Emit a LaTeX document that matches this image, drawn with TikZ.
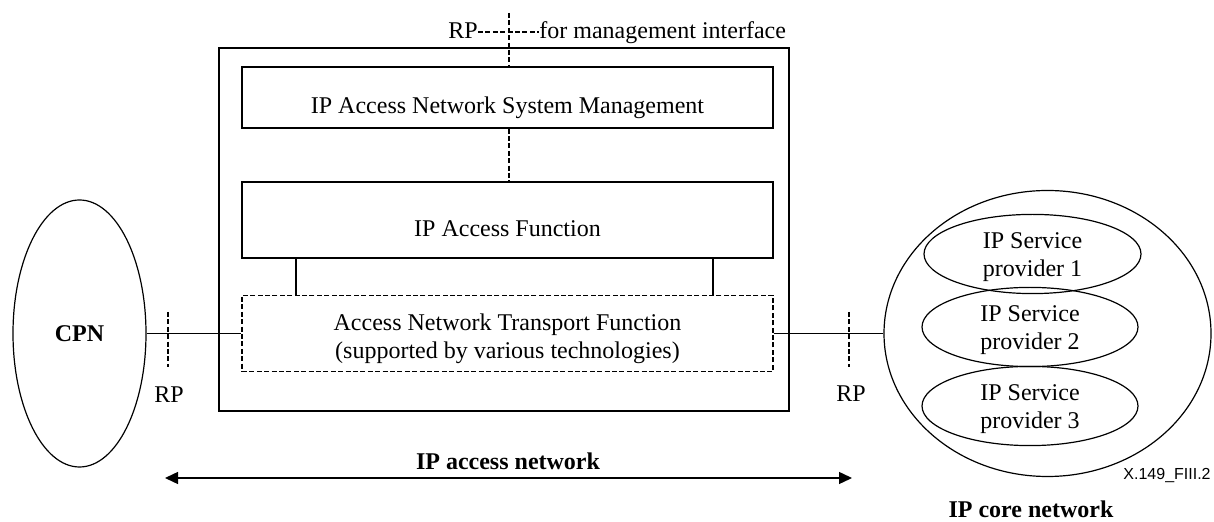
\documentclass[tikz,border=0pt]{standalone}
\usepackage{fontspec}
\setmainfont{Liberation Serif}
\newfontfamily\figsans{Liberation Sans}
\usetikzlibrary{shapes.geometric,arrows.meta}
\newcommand{\lowered}[2]{\raisebox{-#1}[\height][\depth]{\begin{tabular}{@{}c@{}}#2\end{tabular}}}
\begin{document}
\begin{tikzpicture}[x=0.5pt,y=-0.5pt,
  every node/.style={font=\fontsize{12}{14}\selectfont},
  box/.style={draw,line width=0.6pt,rectangle,inner sep=0pt,minimum width=265.5pt,align=center},
  dbox/.style={box,dash pattern=on 2.5pt off 1.2pt},
  oval/.style={draw,line width=0.6pt,ellipse,inner sep=0pt,align=center},
  tick/.style={line width=0.7pt,dash pattern=on 2.5pt off 1.2pt},
  conn/.style={line width=0.6pt},
  bold/.style={font=\fontsize{12}{14}\selectfont\bfseries}]
\useasboundingbox (0,0) rectangle (1214,522);
% outer IP access network box
\node[draw,line width=0.6pt,rectangle,inner sep=0pt,minimum width=285pt,minimum height=181.5pt] (outer) at (504,229.5) {};
\node[box,minimum height=30.5pt] (mgmt) at (507.5,97.5) {\lowered{5pt}{IP Access Network System Management}};
\node[box,minimum height=38pt] (ipaf) at (507.5,220) {\lowered{5.5pt}{IP Access Function}};
\node[dbox,minimum height=38pt] (antf) at (507.5,333.5) {\lowered{2.5pt}{Access Network Transport Function\\(supported by various technologies)}};
% CPN
\node[oval,minimum width=66.5pt,minimum height=133.5pt,bold] (cpn) at (79.5,333.5) {CPN};
% IP core network
\node[oval,minimum width=163.5pt,minimum height=143pt] (core) at (1047.5,333.5) {};
\node[oval,minimum width=108.5pt,minimum height=35pt] (sp1) at (1032.5,254) {\lowered{1.5pt}{IP Service\\provider 1}};
\node[oval,minimum width=108pt,minimum height=36pt] (sp2) at (1030,327) {\lowered{1.5pt}{IP Service\\provider 2}};
\node[oval,minimum width=108pt,minimum height=36pt] (sp3) at (1030,406) {\lowered{1.5pt}{IP Service\\provider 3}};
% management reference point
\coordinate (mtop) at (509,13);
\node[anchor=base east,inner sep=0pt] (rptop) at (478,39) {RP};
\node[anchor=base west,inner sep=0pt] (fmi) at (539,39) {for management interface};
\draw[tick] (mtop) -- (mtop |- mgmt.north);
\draw[tick] (rptop.east |- 0,32) -- (fmi.west |- 0,32);
\draw[tick] (mgmt.south -| mtop) -- (ipaf.north -| mtop);
% IPAF to ANTF
\coordinate (l1) at (296,0);
\coordinate (l2) at (713,0);
\draw[conn] (ipaf.south -| l1) -- (antf.north -| l1);
\draw[conn] (ipaf.south -| l2) -- (antf.north -| l2);
% connections
\draw[conn] (cpn.east) -- (antf.west);
\draw[conn] (antf.east) -- (core.west);
% RP ticks
\coordinate (rl1) at (168,312); \coordinate (rl2) at (168,367);
\coordinate (rr1) at (849,312); \coordinate (rr2) at (849,367);
\draw[tick] (rl1) -- (rl2);
\draw[tick] (rr1) -- (rr2);
\node[anchor=base west,inner sep=0pt] (rpl) at (154,403) {RP};
\node[anchor=base west,inner sep=0pt] (rpr) at (836,402) {RP};
% IP access network arrow
\coordinate (al) at (165,478);
\coordinate (ar) at (852,478);
\draw[line width=0.7pt,{Triangle[length=6.5pt,width=6pt]}-{Triangle[length=6.5pt,width=6pt]}] (al) -- (ar);
\node[bold,anchor=base,inner sep=0pt] (ianl) at (508,470) {IP access network};
\node[bold,anchor=base,inner sep=0pt] (icnl) at (1031,518) {IP core network};
\node[anchor=base east,inner sep=0pt,font=\figsans\fontsize{8}{9}\selectfont] (fig) at (1211,480) {X.149\_FIII.2};
\end{tikzpicture}
\end{document}
